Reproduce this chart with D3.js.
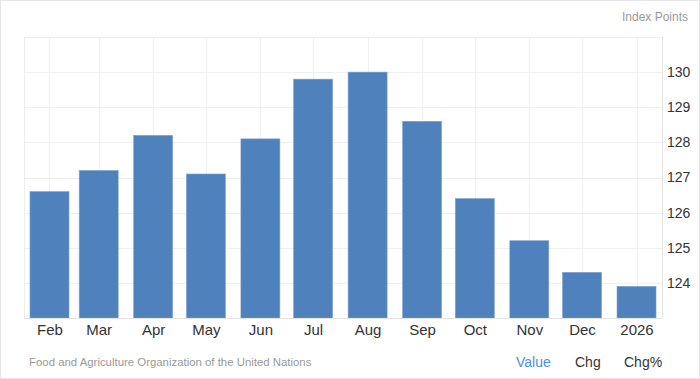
<!DOCTYPE html>
<html>
<head>
<meta charset="utf-8">
<script src="https://cdn.jsdelivr.net/npm/d3@7"></script>
<style>
  html, body { margin: 0; padding: 0; background: #fff; }
  svg { display: block; font-family: "Liberation Sans", Arial, sans-serif; }
</style>
</head>
<body>
<svg id="chart" width="700" height="379"></svg>
<script>
// monthly index values (first of each month)
const months = ['2025-02-01', '2025-03-01', '2025-04-01', '2025-05-01', '2025-06-01', '2025-07-01',
                '2025-08-01', '2025-09-01', '2025-10-01', '2025-11-01', '2025-12-01', '2026-01-01']
const monthLabels = ['Feb', 'Mar', 'Apr', 'May', 'Jun', 'Jul', 'Aug', 'Sep', 'Oct', 'Nov', 'Dec', '2026']
const values = [126.6, 127.2, 128.2, 127.1, 128.1, 129.8, 130.0, 128.6, 126.4, 125.2, 124.3, 123.9]
const yTicks = [124, 125, 126, 127, 128, 129, 130]
const gridValues = [123, 124, 125, 126, 127, 128, 129, 130, 131]

const parse = d3.utcParse('%Y-%m-%d')
const data = months.map((m, i) => ({date: parse(m), label: monthLabels[i], value: values[i]}))

const width = 700, height = 379
const plot = {left: 24, right: 662, top: 37, bottom: 318}

const svg = d3.select('#chart')

// outer frame
svg.append('rect')
    .attr('x', 0.5).attr('y', 0.5)
    .attr('width', width - 1).attr('height', height - 1)
    .attr('fill', '#fff').attr('stroke', '#e6e6e6')

const pad = 14.5 * 24 * 3600 * 1000
const x = d3.scaleUtc()
    .domain([+data[0].date - pad, +data[data.length - 1].date + pad])
    .range([plot.left, plot.right])

const y = d3.scaleLinear().domain([123, 131]).range([plot.bottom, plot.top])

const barW = 39

// grid
const grid = svg.append('g').attr('class', 'grid')
grid.selectAll('.hgrid').data(gridValues).enter().append('line')
    .attr('class', 'hgrid')
    .attr('x1', plot.left).attr('x2', plot.right)
    .attr('y1', d => Math.round(y(d)) + 0.5).attr('y2', d => Math.round(y(d)) + 0.5)
    .attr('stroke', '#f0f0f0')
grid.selectAll('.vgrid').data(data).enter().append('line')
    .attr('class', 'vgrid')
    .attr('x1', d => Math.round(x(d.date)) + 0.5).attr('x2', d => Math.round(x(d.date)) + 0.5)
    .attr('y1', plot.top).attr('y2', plot.bottom)
    .attr('stroke', '#f0f0f0')
// plot edges
grid.append('line')
    .attr('x1', plot.left + 0.5).attr('x2', plot.left + 0.5)
    .attr('y1', plot.top).attr('y2', plot.bottom)
    .attr('stroke', '#ececec')
grid.append('line')
    .attr('x1', plot.right + 0.5).attr('x2', plot.right + 0.5)
    .attr('y1', plot.top).attr('y2', plot.bottom)
    .attr('stroke', '#e3e3e3')

// bars
svg.append('g').selectAll('rect').data(data).enter().append('rect')
    .attr('x', d => x(d.date) - barW / 2)
    .attr('y', d => y(d.value))
    .attr('width', barW)
    .attr('height', d => y(123) - y(d.value))
    .attr('fill', '#4f81bd')
    .attr('stroke', '#7ea3d0')
    .attr('stroke-width', 0.6)

// bottom axis
const xAxis = d3.axisBottom(x)
    .tickValues(data.map(d => d.date))
    .tickFormat((d, i) => monthLabels[i])
    .tickSize(0)
    .tickPadding(6)
const gx = svg.append('g')
    .attr('transform', `translate(0,${plot.bottom})`)
    .call(xAxis)
gx.select('.domain').attr('stroke', '#e3e3e3').attr('d', `M${plot.left},0.5H${plot.right}`)
gx.selectAll('text').attr('font-size', 15).attr('fill', '#333').attr('font-family', null)

// right axis
const yAxis = d3.axisRight(y)
    .tickValues(yTicks)
    .tickFormat(d3.format('d'))
    .tickSize(0)
    .tickPadding(5)
const gy = svg.append('g')
    .attr('transform', `translate(${plot.right},0)`)
    .call(yAxis)
gy.select('.domain').remove()
gy.selectAll('text').attr('font-size', 14).attr('fill', '#333').attr('font-family', null)

// unit label
svg.append('text')
    .attr('x', 688).attr('y', 21)
    .attr('text-anchor', 'end')
    .attr('font-size', 12)
    .attr('fill', '#999')
    .text('Index Points')

// source
svg.append('text')
    .attr('x', 29).attr('y', 366)
    .attr('font-size', 11.4)
    .attr('fill', '#999')
    .text('Food and Agriculture Organization of the United Nations')

// toggles
const toggles = [
    {label: 'Value', x: 516, color: '#4a90e2'},
    {label: 'Chg', x: 575, color: '#333'},
    {label: 'Chg%', x: 624, color: '#333'}
]
svg.selectAll('.toggle').data(toggles).enter().append('text')
    .attr('class', 'toggle')
    .attr('x', d => d.x).attr('y', 367)
    .attr('font-size', 14)
    .attr('fill', d => d.color)
    .text(d => d.label)
</script>
</body>
</html>
